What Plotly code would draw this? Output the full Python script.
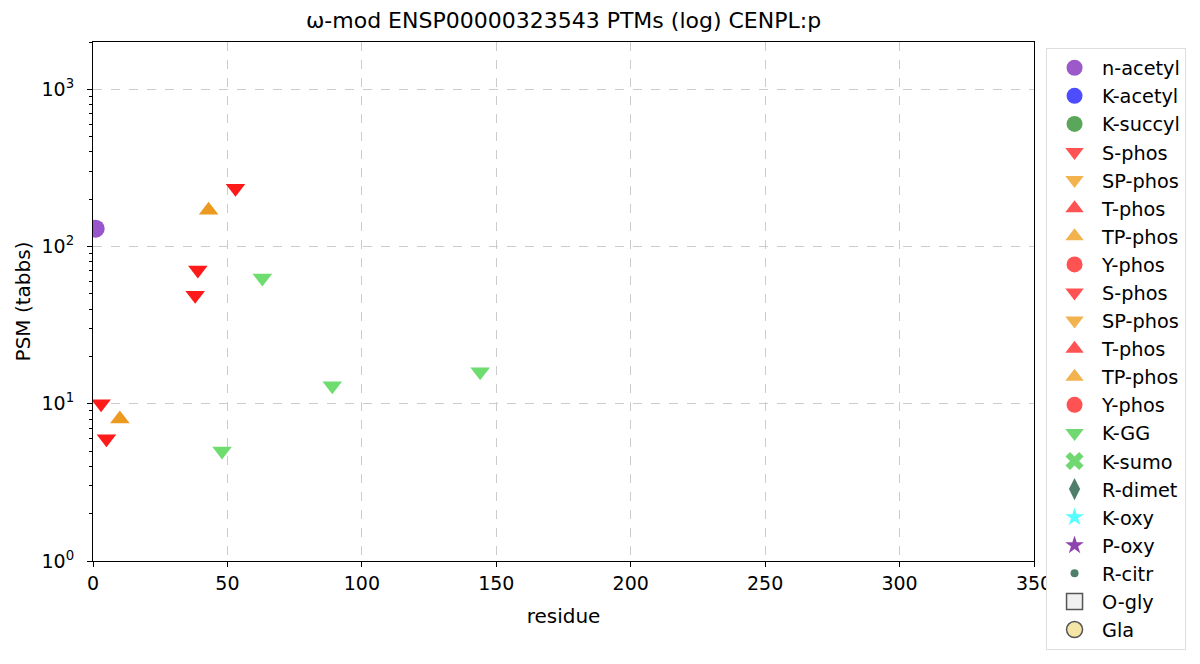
import plotly.graph_objects as go

# ---- data ----
nacetyl_x = [1]
nacetyl_y = [130]

sphos_x = [3, 5, 38, 39, 53]
sphos_y = [10, 6, 49, 71, 235]

tpphos_x = [10, 43]
tpphos_y = [8, 170]

kgg_x = [48, 63, 89, 144]
kgg_y = [5, 63, 13, 16]

legend_names = ["n-acetyl", "K-acetyl", "K-succyl", "S-phos", "SP-phos", "T-phos",
                "TP-phos", "Y-phos", "S-phos", "SP-phos", "T-phos", "TP-phos",
                "Y-phos", "K-GG", "K-sumo", "R-dimet", "K-oxy", "P-oxy", "R-citr",
                "O-gly", "Gla"]
legend_symbols = ["circle", "circle", "circle", "triangle-down", "triangle-down",
                  "triangle-up", "triangle-up", "circle", "triangle-down",
                  "triangle-down", "triangle-up", "triangle-up", "circle",
                  "triangle-down", "x", "diamond-tall", "star", "star", "circle",
                  "square", "circle"]
legend_colors = ["#9b59c9", "#4d4dff", "#5aa65a", "#ff5252", "#f2b24e", "#ff5252",
                 "#f2b24e", "#ff5252", "#ff5252", "#f2b24e", "#ff5252", "#f2b24e",
                 "#ff5252", "#70d870", "#70d870", "#4f7f6b", "#55ffff", "#8e44ad",
                 "#4f7f6b", "#f0f0f0", "#f5e6a8"]
legend_sizes = [16, 16, 16, 16, 16, 16, 16, 16, 16, 16, 16, 16, 16, 16, 16, 16, 14,
                14, 8, 16, 16]
legend_lines = [0] * 19 + [1.5, 1.5]

x_ticks = [0, 50, 100, 150, 200, 250, 300, 350]
y_ticks = [1, 10, 100, 1000]
y_ticktext = ["10<sup>0</sup>", "10<sup>1</sup>", "10<sup>2</sup>", "10<sup>3</sup>"]
y_minor = [m * d for d in (1, 10, 100, 1000) for m in range(2, 10)]

FONT = "DejaVu Sans"

fig = go.Figure()

# data traces
fig.add_trace(go.Scatter(x=nacetyl_x, y=nacetyl_y, mode="markers", showlegend=False,
                         marker=dict(symbol="circle", size=18, color="#9955cc",
                                     line=dict(width=0))))
fig.add_trace(go.Scatter(x=sphos_x, y=sphos_y, mode="markers", showlegend=False,
                         marker=dict(symbol="triangle-down", size=17, color="#ff1a1a",
                                     line=dict(width=0))))
fig.add_trace(go.Scatter(x=tpphos_x, y=tpphos_y, mode="markers", showlegend=False,
                         marker=dict(symbol="triangle-up", size=17, color="#ec9a1f",
                                     line=dict(width=0))))
fig.add_trace(go.Scatter(x=kgg_x, y=kgg_y, mode="markers", showlegend=False,
                         marker=dict(symbol="triangle-down", size=17, color="#6fdc6f",
                                     line=dict(width=0))))

# legend proxy traces
for i, (nm, sym, col, sz, lw) in enumerate(zip(legend_names, legend_symbols,
                                               legend_colors, legend_sizes, legend_lines)):
    fig.add_trace(go.Scatter(x=[None], y=[None], mode="markers", name=nm,
                             legendgroup=f"g{i}",
                             marker=dict(symbol=sym, size=sz, color=col,
                                         line=dict(width=lw, color="#555555"))))

axis_common = dict(showline=True, linecolor="black", linewidth=1, mirror=True,
                   ticks="outside", ticklen=5, tickcolor="black",
                   showgrid=True, gridcolor="#cccccc", griddash="dash", gridwidth=1,
                   zeroline=False, tickfont=dict(family=FONT, size=19, color="black"))

fig.update_xaxes(range=[0, 350], tickvals=x_ticks,
                 title=dict(text="residue", font=dict(family=FONT, size=20, color="black"),
                            standoff=16),
                 **axis_common)
fig.update_yaxes(type="log", range=[0, 3.301], tickvals=y_ticks, ticktext=y_ticktext,
                 ticklabelstandoff=9,
                 minor=dict(tickvals=y_minor, ticks="outside", ticklen=3,
                            tickcolor="black", showgrid=False),
                 title=dict(text="PSM (tabbs)", font=dict(family=FONT, size=20, color="black"),
                            standoff=5),
                 **axis_common)

fig.update_layout(
    width=1200, height=664,
    margin=dict(l=93, r=166, t=42, b=103, autoexpand=False),
    paper_bgcolor="white", plot_bgcolor="white",
    font=dict(family=FONT, size=19, color="black"),
    title=dict(text="ω-mod ENSP00000323543 PTMs (log) CENPL:p",
               font=dict(family=FONT, size=22, color="black"),
               x=0.5, xref="paper", xanchor="center", y=1 - 20 / 664, yanchor="middle"),
    legend=dict(x=1.0128, xanchor="left", y=0.989, yanchor="top",
                bordercolor="#dddddd", borderwidth=1, bgcolor="white",
                font=dict(family=FONT, size=19.3, color="black"),
                tracegroupgap=0, itemwidth=45, traceorder="normal", maxheight=650),
)

fig.write_html("out.html", config={"displayModeBar": False},
               post_script="document.body.style.margin='0';document.body.style.padding='0';")
